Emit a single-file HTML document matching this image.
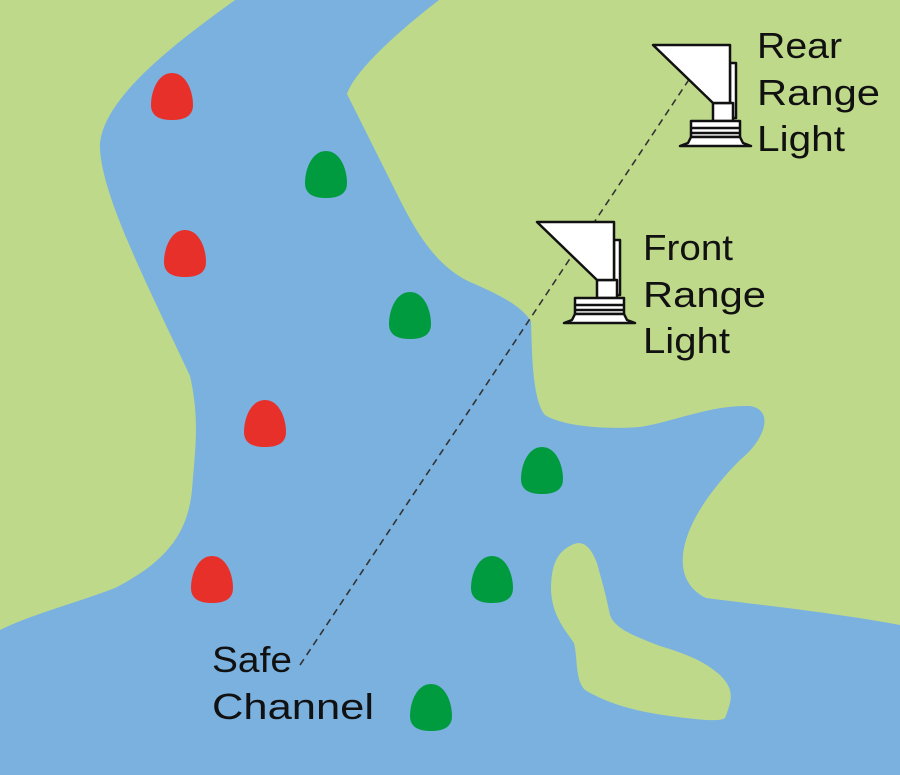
<!DOCTYPE html>
<html><head><style>
body{margin:0;width:900px;height:775px;overflow:hidden;background:#bfd98a}
svg{display:block}
text{font-family:"Liberation Sans",sans-serif;font-size:36px;fill:#111}
</style></head><body>
<svg width="900" height="775" viewBox="0 0 900 775">
<rect width="900" height="775" fill="#bfd98a"/>
<path fill="#7ab1df" d="M235,0 C180,40 105,95 100,143 C98,190 150,290 190,376 C200,420 195,450 192,490 C188,530 170,560 115,588 C70,605 30,615 0,630 L0,775 L900,775 L900,625 C830,612 760,605 706,598 C680,585 680,560 686,540 C695,510 720,480 740,460 C765,440 775,410 750,406 C710,405 680,420 640,427 C600,430 560,425 545,415 C532,400 532,350 531,321 C520,305 500,295 470,282 C440,268 420,240 400,200 C380,160 360,120 347,94 C355,70 400,30 439,0 Z"/>
<path fill="#bfd98a" d="M574,544 C560,550 551,560 551,590 C552,615 565,630 574,643 C578,660 575,680 585,690 C610,705 640,712 670,716 C700,720 720,722 725,718 C732,700 735,690 720,675 C705,662 690,655 660,646 C640,638 615,630 610,615 C605,590 600,575 597,563 C592,550 585,540 574,544 Z"/>
<line x1="300" y1="665" x2="690" y2="78" stroke="#333" stroke-width="1.6" stroke-dasharray="7,5"/>
<defs>
<path id="egg" d="M0,-24 C14,-24 21,-6 21,8 C21,20 11,23 0,23 C-11,23 -21,20 -21,8 C-21,-6 -14,-24 0,-24Z"/>
<g id="light" stroke="#111" stroke-width="2.5" fill="#fff" stroke-linejoin="round">
<path d="M730,63 L736,63 L736,118 L730,118 Z"/>
<rect x="713" y="103" width="20" height="18"/>
<path d="M653,45 L730,45 L730,103 L713,103 Z"/>
<rect x="691" y="121" width="49" height="16"/>
<line x1="691" y1="128" x2="740" y2="128"/>
<line x1="691" y1="133" x2="740" y2="133"/>
<path d="M691,137 L740,137 L743,143 L751,146 L680,146 L688,143 Z"/>
</g>
</defs>
<use href="#light"/>
<use href="#light" transform="translate(-116,177)"/>
<g fill="#e8302a">
<use href="#egg" x="172" y="97"/>
<use href="#egg" x="185" y="254"/>
<use href="#egg" x="265" y="424"/>
<use href="#egg" x="212" y="580"/>
</g>
<g fill="#009b3e">
<use href="#egg" x="326" y="175"/>
<use href="#egg" x="410" y="316"/>
<use href="#egg" x="542" y="471"/>
<use href="#egg" x="492" y="580"/>
<use href="#egg" x="431" y="708"/>
</g>
<text x="757" y="58" textLength="85" lengthAdjust="spacingAndGlyphs">Rear</text>
<text x="757" y="105" textLength="123" lengthAdjust="spacingAndGlyphs">Range</text>
<text x="757" y="151" textLength="88" lengthAdjust="spacingAndGlyphs">Light</text>
<text x="643" y="260" textLength="90" lengthAdjust="spacingAndGlyphs">Front</text>
<text x="643" y="307" textLength="123" lengthAdjust="spacingAndGlyphs">Range</text>
<text x="643" y="353" textLength="87" lengthAdjust="spacingAndGlyphs">Light</text>
<text x="212" y="672" textLength="80" lengthAdjust="spacingAndGlyphs">Safe</text>
<text x="212" y="719" textLength="162" lengthAdjust="spacingAndGlyphs">Channel</text>
</svg>
</body></html>
